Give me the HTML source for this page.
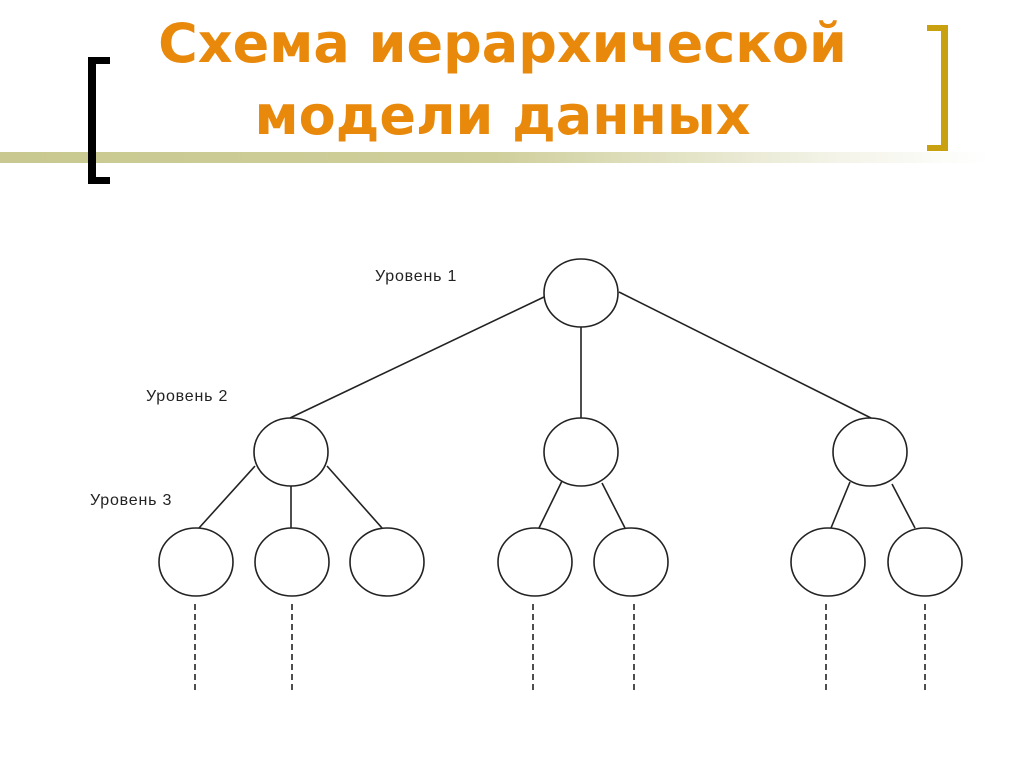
<!DOCTYPE html>
<html><head><meta charset="utf-8"><style>
html,body{margin:0;padding:0;background:#fff;}
body{width:1024px;height:767px;position:relative;overflow:hidden;}
.t{position:absolute;left:0;width:1005px;text-align:center;color:#E8890C;font-family:"Comic Sans MS","DejaVu Sans","Liberation Sans",sans-serif;font-weight:bold;font-size:54px;letter-spacing:0px;}
.lbl{font-family:"Liberation Sans","DejaVu Sans",sans-serif;font-size:16px;letter-spacing:0.8px;fill:#222;}
</style></head><body>
<div style="position:absolute;left:0;top:152px;width:990px;height:11px;background:linear-gradient(to right,#c8c890 0%,#cfcf9c 50%,#f4f4ea 85%,#fff 100%);"></div>
<div style="position:absolute;left:88px;top:57px;width:8px;height:127px;background:#000;"></div>
<div style="position:absolute;left:88px;top:57px;width:22px;height:7px;background:#000;"></div>
<div style="position:absolute;left:88px;top:177px;width:22px;height:7px;background:#000;"></div>
<div style="position:absolute;left:941px;top:25px;width:7px;height:126px;background:#C9A010;"></div>
<div style="position:absolute;left:927px;top:25px;width:21px;height:6px;background:#C9A010;"></div>
<div style="position:absolute;left:927px;top:145px;width:21px;height:6px;background:#C9A010;"></div>
<div class="t" style="top:12px;">Схема иерархической</div>
<div class="t" style="top:84px;">модели данных</div>
<svg width="1024" height="767" style="position:absolute;left:0;top:0" xmlns="http://www.w3.org/2000/svg">
<g stroke="#222" stroke-width="1.6" fill="none">
<ellipse cx="581" cy="293" rx="37" ry="34"/>
<ellipse cx="291" cy="452" rx="37" ry="34"/>
<ellipse cx="581" cy="452" rx="37" ry="34"/>
<ellipse cx="870" cy="452" rx="37" ry="34"/>
<ellipse cx="196" cy="562" rx="37" ry="34"/>
<ellipse cx="292" cy="562" rx="37" ry="34"/>
<ellipse cx="387" cy="562" rx="37" ry="34"/>
<ellipse cx="535" cy="562" rx="37" ry="34"/>
<ellipse cx="631" cy="562" rx="37" ry="34"/>
<ellipse cx="828" cy="562" rx="37" ry="34"/>
<ellipse cx="925" cy="562" rx="37" ry="34"/>
<line x1="544" y1="297" x2="290" y2="418"/>
<line x1="581" y1="327" x2="581" y2="418"/>
<line x1="619" y1="292" x2="871" y2="418"/>
<line x1="255" y1="466" x2="199" y2="528"/>
<line x1="291" y1="486" x2="291" y2="528"/>
<line x1="327" y1="466" x2="382" y2="528"/>
<line x1="562" y1="481" x2="539" y2="528"/>
<line x1="602" y1="483" x2="625" y2="528"/>
<line x1="850" y1="482" x2="831" y2="528"/>
<line x1="892" y1="484" x2="915" y2="528"/>
<g stroke-dasharray="6,4">
<line x1="195" y1="604" x2="195" y2="690"/>
<line x1="292" y1="604" x2="292" y2="690"/>
<line x1="533" y1="604" x2="533" y2="690"/>
<line x1="634" y1="604" x2="634" y2="690"/>
<line x1="826" y1="604" x2="826" y2="690"/>
<line x1="925" y1="604" x2="925" y2="690"/>
</g></g>
<text class="lbl" x="375" y="281">Уровень 1</text>
<text class="lbl" x="146" y="401">Уровень 2</text>
<text class="lbl" x="90" y="505">Уровень 3</text>
</svg>
</body></html>
